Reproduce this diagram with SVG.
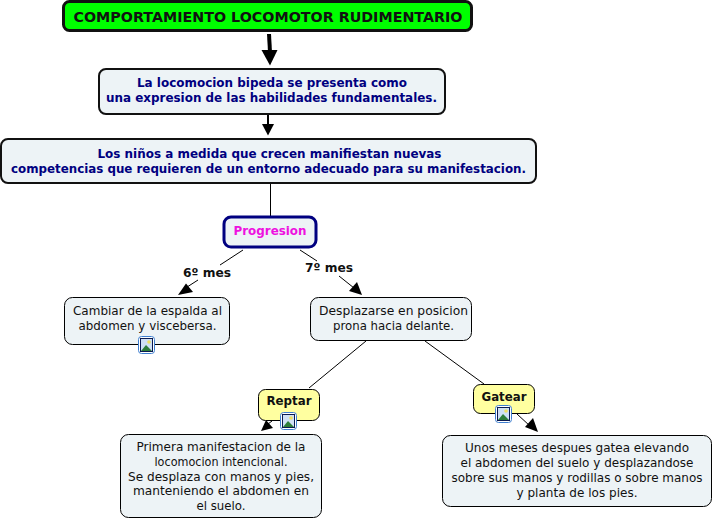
<svg xmlns="http://www.w3.org/2000/svg" width="714" height="520" viewBox="0 0 714 520">
<style>
text{font-family:"DejaVu Sans",Verdana,sans-serif;font-size:11.6px;text-anchor:middle;fill:#111}
.b{font-weight:bold}
.n{fill:#000080;font-weight:bold;font-size:12.2px}
.box{fill:#edf3f6;stroke:#000;stroke-width:1}
.heavy{fill:#edf3f6;stroke:#111;stroke-width:2}
.yel{fill:#ffffa0;stroke:#000;stroke-width:1}
.c{stroke:#000;stroke-width:1;fill:none}
</style>
<defs>
<g id="icon">
<rect x="0.500" y="0.500" width="16" height="17" rx="3" fill="#fff" stroke="#3f7fd0"/>
<rect x="2.500" y="2.500" width="12" height="13" fill="#cfe0f5" stroke="#0a1a50"/>
<circle cx="11" cy="6" r="1.800" fill="#f0e060"/>
<path d="M3 15 L8 9 L14 15 Z" fill="#2e7d3a"/>
</g>
</defs>
<g id="connectors">
<path d="M269 34 L270 52" stroke="#000" stroke-width="4" fill="none"/>
<path d="M261.500 50 L277.500 50 L270 65.500 Z" fill="#000"/>
<path d="M268 114 L268 125" stroke="#000" stroke-width="2" fill="none"/>
<path d="M262 124 L274 124 L268 135.500 Z" fill="#000"/>
<path class="c" d="M270.500 184 L270.500 216"/>
<path class="c" d="M243 250 L220 265"/>
<path class="c" d="M198 280 L184 289"/>
<path d="M178 295 L186 283.500 L193 292 Z" fill="#000"/>
<path class="c" d="M300 250 L317 261"/>
<path class="c" d="M339 276 L354 288"/>
<path d="M362 295 L349 291 L357 282 Z" fill="#000"/>
<path class="c" d="M366 341 L309 388"/>
<path class="c" d="M425 341 L484 384"/>
<path class="c" d="M272 421 L268 424"/>
<path d="M261 431 L266 420 L273 428 Z" fill="#000"/>
<path class="c" d="M517 414 L530 426"/>
<path d="M538 432 L525 427 L533 418 Z" fill="#000"/>
</g>
<g id="n1">
<rect x="63.500" y="1.500" width="408" height="29" rx="6" fill="#00ff00" stroke="#111" stroke-width="3"/>
<text x="268" y="22" class="b" style="font-size:13.200px" textLength="389" lengthAdjust="spacingAndGlyphs">COMPORTAMIENTO LOCOMOTOR RUDIMENTARIO</text>
</g>
<g id="n2">
<rect x="99" y="69" width="346" height="45" rx="7" class="heavy"/>
<text x="272" y="87" class="n" textLength="270" lengthAdjust="spacingAndGlyphs">La locomocion bipeda se presenta como</text>
<text x="271.500" y="102" class="n" textLength="331" lengthAdjust="spacingAndGlyphs">una expresion de las habilidades fundamentales.</text>
</g>
<g id="n3">
<rect x="1" y="139" width="535" height="44" rx="7" class="heavy"/>
<text x="269.500" y="158" class="n" textLength="344" lengthAdjust="spacingAndGlyphs">Los niños a medida que crecen manifiestan nuevas</text>
<text x="268.500" y="173" class="n" textLength="515" lengthAdjust="spacingAndGlyphs">competencias que requieren de un entorno adecuado para su manifestacion.</text>
</g>
<g id="n4">
<rect x="224" y="217" width="92" height="30" rx="7" fill="#edf3f6" stroke="#000080" stroke-width="3"/>
<text x="270" y="235" class="b" style="fill:#ee11e0" textLength="73" lengthAdjust="spacingAndGlyphs">Progresion</text>
</g>
<g id="l1"><text x="207" y="277" class="b" textLength="48" lengthAdjust="spacingAndGlyphs">6º mes</text></g>
<g id="l2"><text x="329" y="272" class="b" textLength="48" lengthAdjust="spacingAndGlyphs">7º mes</text></g>
<g id="n5">
<rect x="64.500" y="297.500" width="165" height="47" rx="8" class="box"/>
<text x="147.500" y="315" textLength="149" lengthAdjust="spacingAndGlyphs">Cambiar de la espalda al</text>
<text x="147.500" y="330" textLength="138" lengthAdjust="spacingAndGlyphs">abdomen y viscebersa.</text>
<use href="#icon" x="138" y="336"/>
</g>
<g id="n6">
<rect x="310.500" y="297.500" width="161" height="43" rx="8" class="box"/>
<text x="393.500" y="315" textLength="149" lengthAdjust="spacingAndGlyphs">Desplazarse en posicion</text>
<text x="393.500" y="330" textLength="121" lengthAdjust="spacingAndGlyphs">prona hacia delante.</text>
</g>
<g id="n7">
<rect x="258.500" y="389.500" width="61" height="31" rx="7" class="yel"/>
<text x="289" y="405" class="b" textLength="45" lengthAdjust="spacingAndGlyphs">Reptar</text>
<use href="#icon" x="280" y="412"/>
</g>
<g id="n8">
<rect x="473.500" y="384.500" width="61" height="29" rx="7" class="yel"/>
<text x="504" y="401" class="b" textLength="45" lengthAdjust="spacingAndGlyphs">Gatear</text>
<use href="#icon" x="495" y="405"/>
</g>
<g id="n9">
<rect x="120.500" y="434.500" width="201" height="83" rx="8" class="box"/>
<text x="221" y="451" textLength="169" lengthAdjust="spacingAndGlyphs">Primera manifestacion de la</text>
<text x="221" y="466" textLength="133" lengthAdjust="spacingAndGlyphs">locomocion intencional.</text>
<text x="221" y="481" textLength="186" lengthAdjust="spacingAndGlyphs">Se desplaza con manos y pies,</text>
<text x="221" y="495" textLength="176" lengthAdjust="spacingAndGlyphs">manteniendo el abdomen en</text>
<text x="221" y="510" textLength="49" lengthAdjust="spacingAndGlyphs">el suelo.</text>
</g>
<g id="n10">
<rect x="442.500" y="435.500" width="269" height="71" rx="8" class="box"/>
<text x="577" y="452" textLength="224" lengthAdjust="spacingAndGlyphs">Unos meses despues gatea elevando</text>
<text x="577" y="467" textLength="233" lengthAdjust="spacingAndGlyphs">el abdomen del suelo y desplazandose</text>
<text x="577" y="482" textLength="251" lengthAdjust="spacingAndGlyphs">sobre sus manos y rodillas o sobre manos</text>
<text x="577" y="497" textLength="121" lengthAdjust="spacingAndGlyphs">y planta de los pies.</text>
</g>
</svg>
